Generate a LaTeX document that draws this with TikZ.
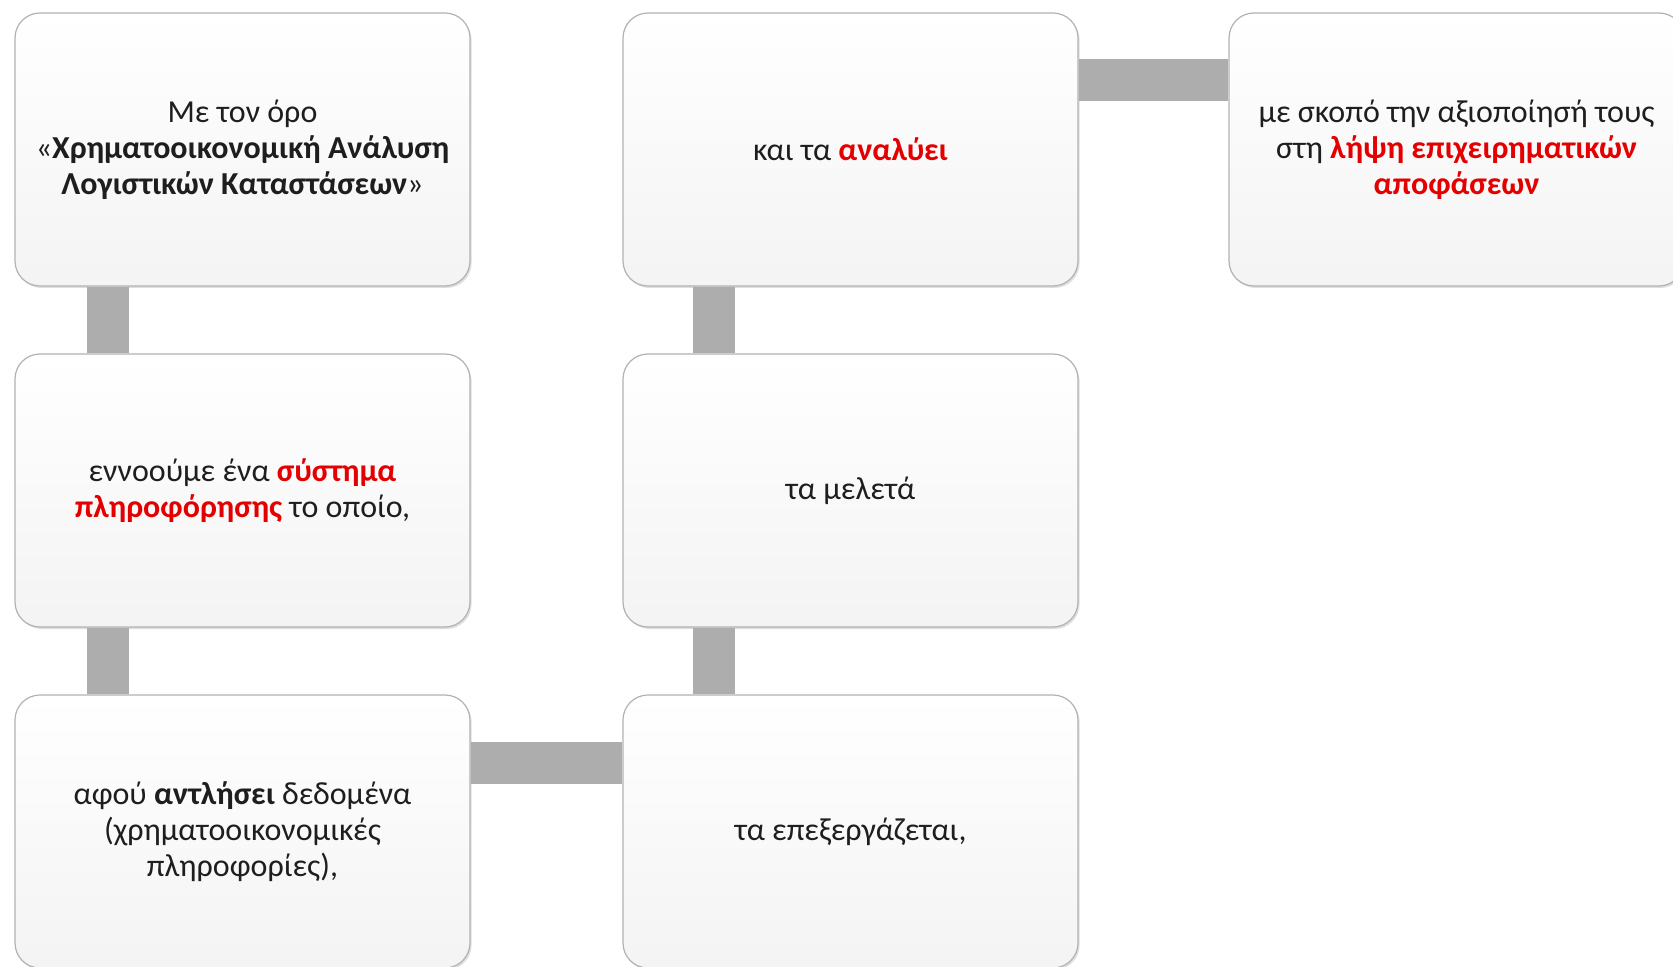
\documentclass[tikz,border=0pt]{standalone}
\usepackage{fontspec}
\setmainfont{Carlito}
\usetikzlibrary{calc,shadows}

\definecolor{barGray}{RGB}{173,173,173}
\definecolor{cardLine}{RGB}{178,178,178}
\definecolor{keyRed}{RGB}{228,0,0}
\definecolor{cardText}{RGB}{30,30,30}

\newcommand{\keyw}[1]{\textcolor{keyRed}{\textbf{#1}}}

\tikzset{
  card/.style={draw=cardLine, line width=0.6pt, rounded corners=12.5pt,
    top color=white, middle color=white, bottom color=gray!9,
    drop shadow={shadow xshift=0.8pt, shadow yshift=-1pt, opacity=0.25},
    minimum width=227.5pt, minimum height=136.5pt, inner sep=0pt,
    align=center, text=cardText, font=\fontsize{16}{17.9}\selectfont},
  link/.style={draw=barGray, line width=21pt}
}

\begin{document}
\begin{tikzpicture}[x=0.5pt,y=0.5pt,yscale=-1,xscale=1]
		\useasboundingbox (0,0) rectangle (1673,967);
		
		% first column
		\node[card] (oros) at (242.5,149.5) {Με τον όρο\\«\textbf{Χρηματοοικονομική Ανάλυση}\\\textbf{Λογιστικών Καταστάσεων}»};
		\node[card] (systima) at (242.5,490.5) {εννοούμε ένα \keyw{σύστημα}\\\keyw{πληροφόρησης} το οποίο,};
		\node[card] (antlisi) at (242.5,831.5) {αφού \textbf{αντλήσει} δεδομένα\\(χρηματοοικονομικές\\πληροφορίες),};
		
		% second column
		\node[card] (epexerg) at (850.5,831.5) {τα επεξεργάζεται,};
		\node[card] (meleta) at (850.5,490.5) {τα μελετά};
		\node[card] (analyei) at (850.5,149.5) {και τα \keyw{αναλύει}};
		
		% third column
		\node[card] (lipsi) at (1456.5,149.5) {με σκοπό την αξιοποίησή τους\\στη \keyw{λήψη επιχειρηματικών}\\\keyw{αποφάσεων}};
		
		% bars
		\draw[link] ($(oros.south west)+(93.5,0)$) -- ($(systima.north west)+(93.5,0)$);
		\draw[link] ($(systima.south west)+(93.5,0)$) -- ($(antlisi.north west)+(93.5,0)$);
		\draw[link] ($(antlisi.north east)+(0,68.5)$) -- ($(epexerg.north west)+(0,68.5)$);
		\draw[link] ($(epexerg.north west)+(91.5,0)$) -- ($(meleta.south west)+(91.5,0)$);
		\draw[link] ($(meleta.north west)+(91.5,0)$) -- ($(analyei.south west)+(91.5,0)$);
		\draw[link] ($(analyei.north east)+(0,68)$) -- ($(lipsi.north west)+(0,68)$);
		
\end{tikzpicture}
\end{document}
